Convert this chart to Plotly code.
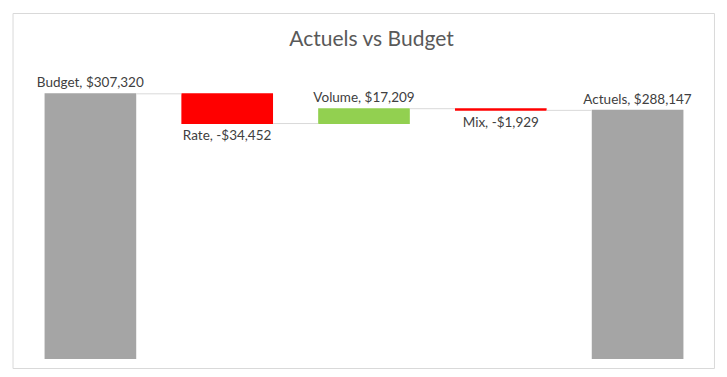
import plotly.graph_objects as go

categories = ["Budget", "Rate", "Volume", "Mix", "Actuels"]
values = [307320, -34452, 17209, -1929, 288147]
measures = ["absolute", "relative", "relative", "relative", "total"]
label_texts = ["Budget, $307,320", "Rate, -$34,452", "Volume, $17,209", "Mix, -$1,929", "Actuels, $288,147"]

fig = go.Figure(go.Waterfall(
    x=categories,
    y=values,
    measure=measures,
    text=label_texts,
    textposition="outside",
    texttemplate="%{text}",
    constraintext="none",
    textfont=dict(family="Lato", size=13.5, color="#404040"),
    cliponaxis=False,
    increasing=dict(marker=dict(color="#92d050")),
    decreasing=dict(marker=dict(color="#ff0000")),
    totals=dict(marker=dict(color="#a5a5a5")),
    connector=dict(line=dict(color="#d9d9d9", width=1)),
))

fig.update_layout(
    width=727, height=377,
    margin=dict(l=13.5, r=28.5, t=49, b=26),
    paper_bgcolor="white", plot_bgcolor="white",
    title=dict(text="Actuels vs Budget", x=0.5, xanchor="center", y=0.92, yanchor="middle",
               font=dict(family="Lato", size=21, color="#595959")),
    showlegend=False,
    waterfallgap=0.33,
    xaxis=dict(showticklabels=False, showgrid=False, zeroline=False, showline=False),
    yaxis=dict(range=[0, 350000], showticklabels=False, showgrid=False, zeroline=False, showline=False),
    shapes=[dict(type="rect", xref="paper", yref="paper", x0=-0.0131, x1=1.0124, y0=-0.0315, y1=1.144,
                 line=dict(color="#d9d9d9", width=1), fillcolor="rgba(0,0,0,0)", layer="below")],
)

fig.write_html("out.html")
